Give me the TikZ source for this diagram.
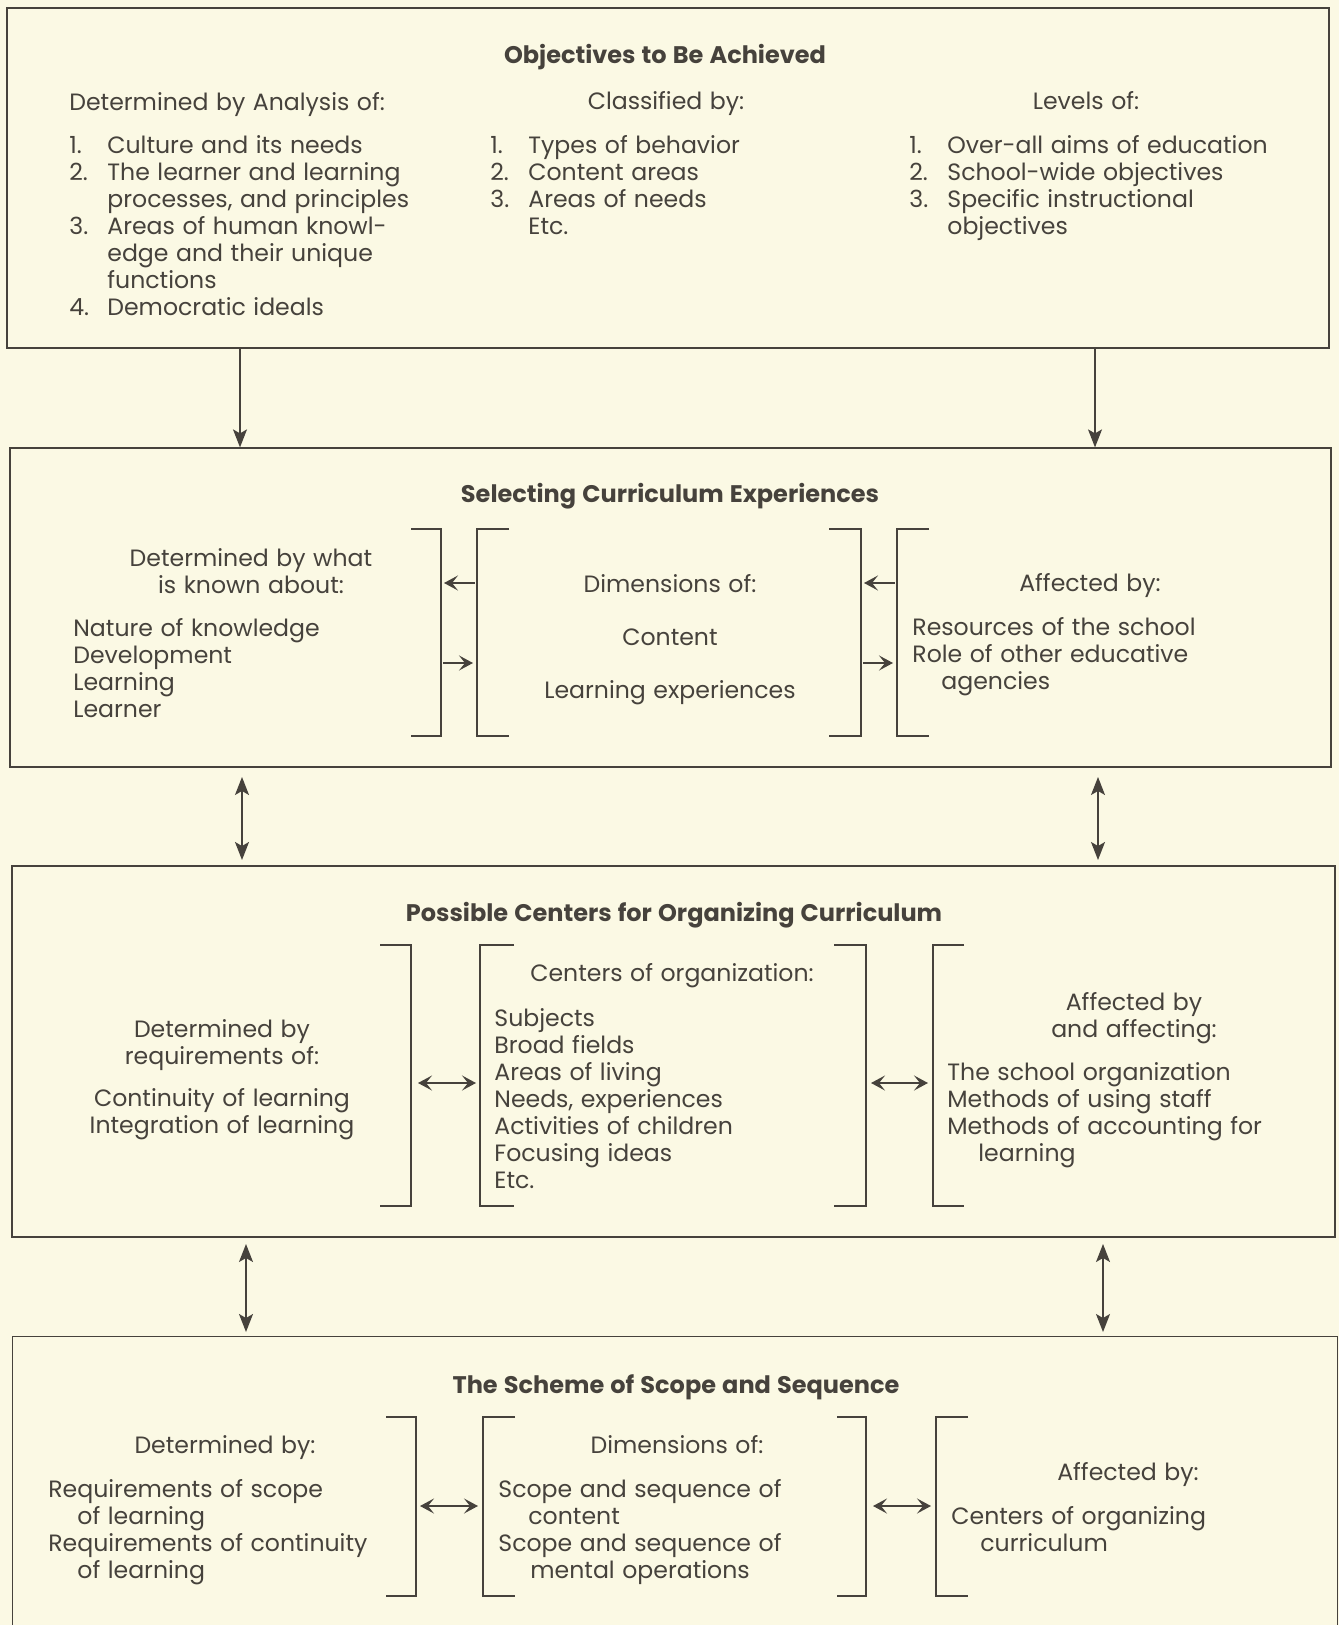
\documentclass[tikz,border=0pt]{standalone}
\usepackage{fontspec}
\setmainfont{Poppins}[WordSpace=1.2]
\usetikzlibrary{arrows.meta,fit}
\definecolor{paper}{HTML}{FBF9E4}
\definecolor{ink}{HTML}{46423C}
\newcommand{\numitem}[1]{\makebox[19pt][l]{#1}}
\newcommand{\hang}{\hspace*{19pt}}

\begin{document}
\begin{tikzpicture}[x=0.5pt,y=-0.5pt,
  every node/.style={text=ink,inner sep=0pt,font=\fontsize{11.8}{13.5}\selectfont},
  box/.style={draw=ink,line width=0.6pt,inner sep=0pt},
  heading/.style={font=\fontsize{12}{13.5}\selectfont\bfseries,anchor=base},
  label/.style={anchor=base},
  block/.style={align=left,anchor=north west},
  capt/.style={align=center},
  bracket/.style={draw=ink,line width=0.7pt},
  flow/.style={draw=ink,line width=0.7pt,-{Stealth[length=9pt,width=7pt,inset=2pt]}},
  twoway/.style={draw=ink,line width=0.7pt,{Stealth[length=9pt,width=7pt,inset=2pt]}-{Stealth[length=9pt,width=7pt,inset=2pt]}},
  link/.style={draw=ink,line width=0.9pt,-{Stealth[length=7pt,width=7.5pt,inset=3pt]}},
  links/.style={draw=ink,line width=0.9pt,{Stealth[length=7pt,width=7.5pt,inset=3pt]}-{Stealth[length=7pt,width=7.5pt,inset=3pt]}}]
  \fill[paper] (0,0) rectangle (1339,1625);
  \useasboundingbox (0,0) rectangle (1339,1625);

  % objectives
  \node[box,fit={(7,8) (1329,348)}] (obj) {};
  \node[heading] (objT) at (665,64) {Objectives to Be Achieved};
  \node[block] (objA) at (69,92) {Determined by Analysis of:};
  \node[block] (objAL) at (69,135) {\numitem{1.}Culture and its needs\\
    \numitem{2.}The learner and learning\\
    \hang processes, and principles\\
    \numitem{3.}Areas of human knowl-\\
    \hang edge and their unique\\
    \hang functions\\
    \numitem{4.}Democratic ideals};
  \node[label] (objB) at (666,110) {Classified by:};
  \node[block] (objBL) at (490,135) {\numitem{1.}Types of behavior\\
    \numitem{2.}Content areas\\
    \numitem{3.}Areas of needs\\
    \hang Etc.};
  \node[label] (objC) at (1086,110) {Levels of:};
  \node[block] (objCL) at (909,135) {\numitem{1.}Over-all aims of education\\
    \numitem{2.}School-wide objectives\\
    \numitem{3.}Specific instructional\\
    \hang objectives};

  % selecting
  \node[box,fit={(10,448) (1331,767)}] (sel) {};
  \node[heading] (selT) at (670,503) {Selecting Curriculum Experiences};
  \node[capt,anchor=north] (selA) at (251,548) {Determined by what\\is known about:};
  \node[block] (selAL) at (73,618) {Nature of knowledge\\Development\\Learning\\Learner};
  \node[capt,anchor=north] (selB) at (670,574) {Dimensions of:\\[13pt]Content\\[13pt]Learning experiences};
  \node[label] (selC) at (1090,591) {Affected by:};
  \node[block] (selCL) at (912,617) {Resources of the school\\Role of other educative\\\hspace*{14.5pt}agencies};
  \draw[bracket] (411,529) -- (441,529) -- (441,736) -- (411,736);
  \draw[bracket] (509,529) -- (477,529) -- (477,736) -- (509,736);
  \draw[bracket] (829,529) -- (861,529) -- (861,736) -- (829,736);
  \draw[bracket] (929,529) -- (897,529) -- (897,736) -- (929,736);
  \coordinate (selP1) at (475,583); \coordinate (selP2) at (444,583);
  \coordinate (selP3) at (443,663); \coordinate (selP4) at (473,663);
  \coordinate (selQ1) at (895,583); \coordinate (selQ2) at (864,583);
  \coordinate (selQ3) at (863,663); \coordinate (selQ4) at (893,663);
  \draw[link] (selP1) -- (selP2);
  \draw[link] (selP3) -- (selP4);
  \draw[link] (selQ1) -- (selQ2);
  \draw[link] (selQ3) -- (selQ4);

  % centers
  \node[box,fit={(12,866) (1335,1237)}] (cen) {};
  \node[heading] (cenT) at (674,921) {Possible Centers for Organizing Curriculum};
  \node[capt,anchor=north] (cenA) at (222,1019) {Determined by\\requirements of:};
  \node[capt,anchor=north] (cenAL) at (222,1088) {Continuity of learning\\Integration of learning};
  \node[label] (cenB) at (672,981) {Centers of organization:};
  \node[block] (cenBL) at (494,1008) {Subjects\\Broad fields\\Areas of living\\Needs, experiences\\Activities of children\\Focusing ideas\\Etc.};
  \node[capt,anchor=north] (cenC) at (1134,992) {Affected by\\and affecting:};
  \node[block] (cenCL) at (947,1062) {The school organization\\Methods of using staff\\Methods of accounting for\\\hspace*{15.5pt}learning};
  \draw[bracket] (380,945) -- (411,945) -- (411,1206) -- (380,1206);
  \draw[bracket] (514,945) -- (480,945) -- (480,1206) -- (514,1206);
  \draw[bracket] (834,945) -- (866,945) -- (866,1206) -- (834,1206);
  \draw[bracket] (964,945) -- (933,945) -- (933,1206) -- (964,1206);
  \coordinate (cenP1) at (418,1083); \coordinate (cenP2) at (476,1083);
  \coordinate (cenQ1) at (871,1083); \coordinate (cenQ2) at (928,1083);
  \draw[links] (cenP1) -- (cenP2);
  \draw[links] (cenQ1) -- (cenQ2);

  % scope and sequence
  \node[fit={(13,1337) (1337,1625)}] (sch) {};
  \draw[ink,line width=0.6pt] (sch.south west) |- (sch.north east) -- (sch.south east);
  \node[heading] (schT) at (676,1393) {The Scheme of Scope and Sequence};
  \node[label] (schA) at (225,1453) {Determined by:};
  \node[block] (schAL) at (48,1479) {Requirements of scope\\\hspace*{14.5pt}of learning\\Requirements of continuity\\\hspace*{14.5pt}of learning};
  \node[label] (schB) at (677,1453) {Dimensions of:};
  \node[block] (schBL) at (498,1479) {Scope and sequence of\\\hspace*{15pt}content\\Scope and sequence of\\\hspace*{16pt}mental operations};
  \node[label] (schC) at (1128,1480) {Affected by:};
  \node[block] (schCL) at (951,1506) {Centers of organizing\\\hspace*{14.5pt}curriculum};
  \draw[bracket] (386,1417) -- (416,1417) -- (416,1596) -- (386,1596);
  \draw[bracket] (515,1417) -- (483,1417) -- (483,1596) -- (515,1596);
  \draw[bracket] (837,1417) -- (866,1417) -- (866,1596) -- (837,1596);
  \draw[bracket] (968,1417) -- (936,1417) -- (936,1596) -- (968,1596);
  \coordinate (schP1) at (420,1506); \coordinate (schP2) at (478,1506);
  \coordinate (schQ1) at (873,1506); \coordinate (schQ2) at (931,1506);
  \draw[links] (schP1) -- (schP2);
  \draw[links] (schQ1) -- (schQ2);

  % between the boxes
  \coordinate (colL) at (240,0); \coordinate (colR) at (1095,0);
  \draw[flow] (obj.south -| colL) -- (sel.north -| colL);
  \draw[flow] (obj.south -| colR) -- (sel.north -| colR);
  \coordinate (midL1) at (242,777); \coordinate (midL2) at (242,860);
  \coordinate (midR1) at (1098,777); \coordinate (midR2) at (1098,860);
  \draw[twoway] (midL1) -- (midL2);
  \draw[twoway] (midR1) -- (midR2);
  \coordinate (lowL1) at (246,1244); \coordinate (lowL2) at (246,1332);
  \coordinate (lowR1) at (1103,1244); \coordinate (lowR2) at (1103,1332);
  \draw[twoway] (lowL1) -- (lowL2);
  \draw[twoway] (lowR1) -- (lowR2);
\end{tikzpicture}
\end{document}
